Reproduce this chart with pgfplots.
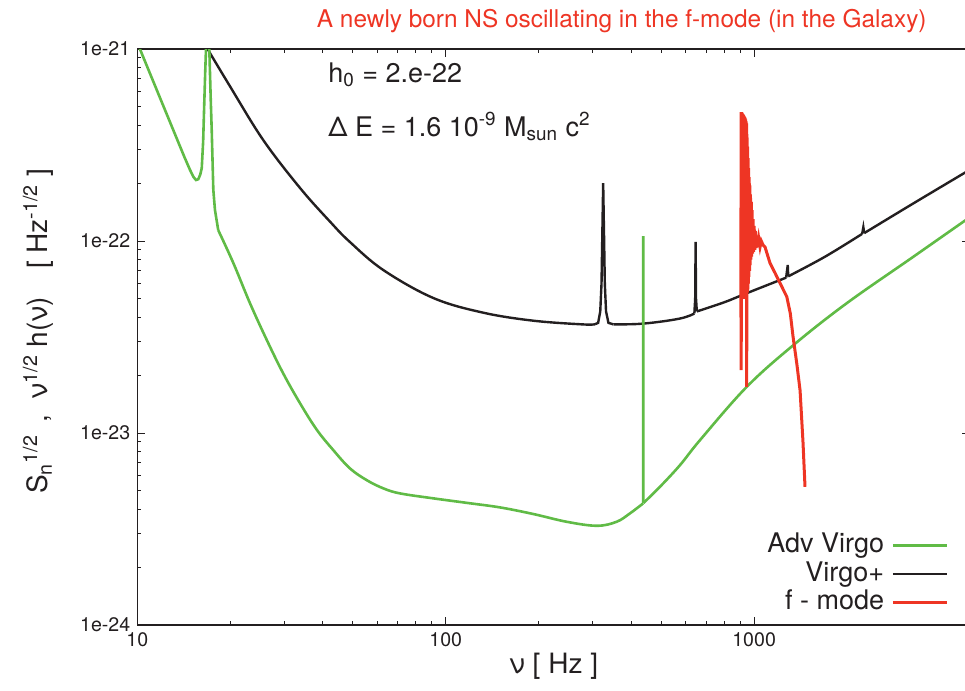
\documentclass[border=0pt]{standalone}
\usepackage{pgfplots}
\pgfplotsset{compat=1.18}
\usepackage{fontspec}
\setmainfont{TeX Gyre Heros}
\definecolor{cgreen}{RGB}{96,187,70}
\definecolor{cblack}{RGB}{35,31,32}
\definecolor{cred}{RGB}{238,53,36}
\begin{document}
\begin{tikzpicture}
\begin{axis}[
  xmode=log, ymode=log, clip mode=individual,
  scale only axis, width=416.2pt, height=288pt,
  xmin=10, xmax=5000, ymin=1e-24, ymax=1e-21,
  xtick={10,100,1000}, xticklabels={10,100,1000},
  ytick={1e-24,1e-23,1e-22,1e-21}, yticklabels={1e-24,1e-23,1e-22,1e-21},
  tick label style={font=\fontsize{9.8}{11}\selectfont, text=cblack},
  major tick length=4pt, minor tick length=2pt,
  axis line style={cblack, line width=0.6pt},
  tick style={cblack, line width=0.5pt},
  xlabel={ν [ Hz ]},
  xlabel style={font=\fontsize{14}{16}\selectfont, text=cblack, at={(axis description cs:0.5,-0.072)}, anchor=center},
  ylabel={S\textsubscript{n}\textsuperscript{1/2}\, ,\; ν\textsuperscript{1/2} h(ν)\quad [ Hz\textsuperscript{-1/2} ]},
  ylabel style={font=\fontsize{14}{16}\selectfont, text=cblack, at={(axis description cs:-0.119,0.51)}, anchor=center},
  legend style={at={(rel axis cs:1,0)}, anchor=south east, draw=none, fill=none,
    font=\fontsize{13.5}{15}\selectfont, text=cblack, xshift=-10.5pt, yshift=4pt, inner sep=0pt,
    row sep=0pt, column sep=3pt,
    nodes={inner sep=0.6pt, text height=10pt, text depth=3pt}},
  legend cell align=right, legend plot pos=right,
  legend image code/.code={\draw[#1] (0pt,0pt) -- (27pt,0pt);},
]
\addlegendimage{cgreen, line width=1.3pt}
\addlegendentry{Adv Virgo}
\addlegendimage{cblack, line width=1.3pt}
\addlegendentry{Virgo+}
\addlegendimage{cred, line width=1.5pt}
\addlegendentry{f - mode}

% Virgo+ (smooth stretches and sharp lines)
\addplot[cblack, line width=1.2pt, smooth, tension=0.6, forget plot] table {
x y
16.6 1.05e-21
20 6.38e-22
25.6 3.36e-22
33.7 1.89e-22
42.2 1.26e-22
48.9 9.89e-23
62.8 7.06e-23
91.2 5.05e-23
132 4.24e-23
192 3.85e-23
279 3.68e-23
305 3.69e-23
};
\addplot[cblack, line width=1.2pt, forget plot] table {
x y
305 3.69e-23
312 3.75e-23
317 4.3e-23
320 6e-23
322 1.1e-22
324 2.0e-22
326 1.1e-22
328 6e-23
331 4.3e-23
337 3.75e-23
350 3.68e-23
};
\addplot[cblack, line width=1.2pt, smooth, tension=0.6, forget plot] table {
x y
350 3.68e-23
420 3.7e-23
495 3.8e-23
575 3.95e-23
621 4.1e-23
640 4.2e-23
};
\addplot[cblack, line width=1.2pt, forget plot] table {
x y
640 4.2e-23
644 5e-23
646 9.9e-23
648 5e-23
652 4.3e-23
};
\addplot[cblack, line width=1.2pt, smooth, tension=0.6, forget plot] table {
x y
652 4.3e-23
800 4.8e-23
946 5.35e-23
1270 6.45e-23
};
\addplot[cblack, line width=1.2pt, forget plot] table {
x y
1270 6.45e-23
1285 7.5e-23
1290 6.55e-23
};
\addplot[cblack, line width=1.2pt, smooth, tension=0.6, forget plot] table {
x y
1290 6.55e-23
1700 8.3e-23
2240 1.09e-22
};
\addplot[cblack, line width=1.2pt, forget plot] table {
x y
2240 1.09e-22
2260 1.18e-22
2275 1.1e-22
};
\addplot[cblack, line width=1.2pt, smooth, tension=0.6, forget plot] table {
x y
2275 1.1e-22
3281 1.57e-22
5000 2.35e-22
};

% Adv Virgo
\addplot[cgreen, line width=1.3pt, forget plot] table {
x y
10 1.08e-21
12 5.3e-22
14.2 2.75e-22
14.8 2.36e-22
15.2 2.16e-22
15.5 2.08e-22
15.77 2.1e-22
16.0 2.22e-22
16.18 2.4e-22
16.35 3.3e-22
16.45 4.63e-22
16.6 7.5e-22
16.7 1.0e-21
16.9 1.5e-21
17.12 1.0e-21
17.3 5.5e-22
17.43 3.79e-22
17.64 1.85e-22
17.86 1.45e-22
18.3 1.14e-22
};
\addplot[cgreen, line width=1.3pt, smooth, tension=0.6, forget plot] table {
x y
18.3 1.14e-22
20.5 7.66e-23
23.2 4.74e-23
26.3 3.05e-23
29.7 2.05e-23
33.7 1.43e-23
38.2 1.04e-23
43.2 8.15e-24
48.9 6.55e-24
55.4 5.69e-24
62.8 5.15e-24
71.1 4.85e-24
91.2 4.57e-24
117 4.33e-24
150 4.1e-24
192 3.79e-24
247 3.45e-24
309 3.29e-24
358 3.45e-24
396 3.82e-24
436.5 4.3e-24
};
\addplot[cgreen, line width=1.3pt, forget plot] table {
x y
436.5 4.3e-24
437 1.06e-22
437.5 4.32e-24
};
\addplot[cgreen, line width=1.3pt, smooth, tension=0.6, forget plot] table {
x y
437.5 4.32e-24
495 5.25e-24
575 6.81e-24
668 9.2e-24
946 1.74e-23
1340 2.87e-23
1995 4.74e-23
3281 8.28e-23
5000 1.33e-22
};

% f-mode
\addplot[cred, line width=1.5pt, forget plot] table {
x y
906 4.0e-23
907 4.7e-22
908 2.13e-23
910 4.7e-22
912 5e-23
914 4.65e-22
916 5e-23
918 4.6e-22
920 5e-23
922 4.55e-22
924 5e-23
926 4.5e-22
928 5e-23
930 4.45e-22
932 5e-23
934 4.4e-22
936 5e-23
938 4.3e-22
940 5e-23
942 4.2e-22
944 5.2e-23
945 4.1e-22
946 1.74e-23
948 3.6e-22
950 5.4e-23
952 3.1e-22
954 5.6e-23
956 2.7e-22
958 6e-23
960 2.4e-22
962 6.5e-23
964 2.15e-22
966 7e-23
968 1.95e-22
970 7.5e-23
973 1.75e-22
976 8e-23
979 1.6e-22
982 8.3e-23
985 1.45e-22
988 8.6e-23
992 1.3e-22
996 8.8e-23
1000 1.2e-22
1005 9e-23
1010 1.13e-22
1015 9.2e-23
1020 1.07e-22
1027 9.3e-23
1035 1.03e-22
1045 9.3e-23
1055 1.0e-22
1070 9.5e-23
1085 9.3e-23
1126 7.67e-23
1170 6.8e-23
1213 6.04e-23
1276 5.13e-23
1310 4.2e-23
1337 3.18e-23
1375 2.3e-23
1409 1.67e-23
1440 9e-24
1462 5.25e-24
};

\node[anchor=west, font=\fontsize{13.5}{16}\selectfont, text=cblack] at (rel axis cs:0.221,0.955) {h\textsubscript{0} = 2.e-22};
\node[anchor=west, font=\fontsize{13.5}{16}\selectfont, text=cblack] at (rel axis cs:0.221,0.865) {Δ E = 1.6 10\textsuperscript{-9} M\textsubscript{sun} c\textsuperscript{2}};
\node[font=\fontsize{12.2}{15}\selectfont, text=cred] at (rel axis cs:0.582,1) [yshift=14pt] {A newly born NS oscillating in the f-mode (in the Galaxy)};

\coordinate (A) at (rel axis cs:0,0);
\coordinate (B) at (rel axis cs:1,1);
\end{axis}
\pgfresetboundingbox
\path[use as bounding box] ([xshift=-68.65pt,yshift=-32.5pt]A) rectangle ([xshift=-2.35pt,yshift=24.5pt]B);
\end{tikzpicture}
\end{document}
